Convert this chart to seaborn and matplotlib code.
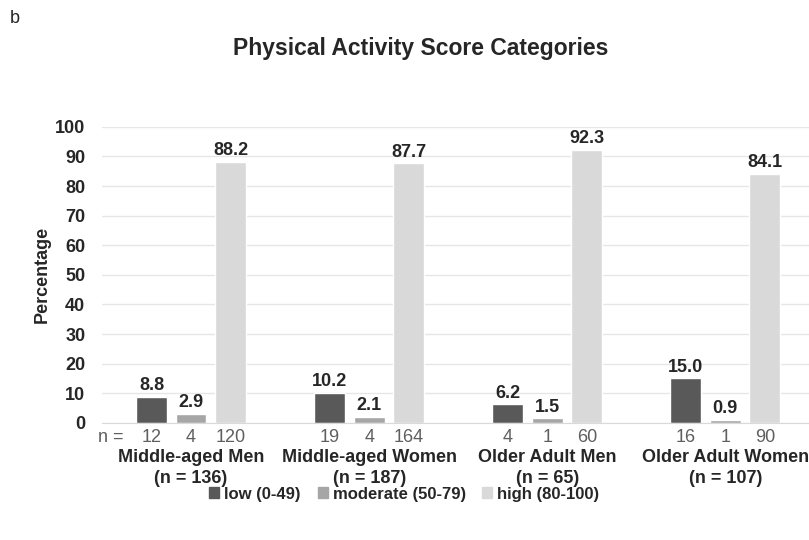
import pandas as pd
import matplotlib.pyplot as plt
import seaborn as sns

# Data
groups = ['Middle-aged Men', 'Middle-aged Women', 'Older Adult Men', 'Older Adult Women']
group_n = [136, 187, 65, 107]
levels = ['low (0-49)', 'moderate (50-79)', 'high (80-100)']
low_pct = [8.8, 10.2, 6.2, 15.0]
moderate_pct = [2.9, 2.1, 1.5, 0.9]
high_pct = [88.2, 87.7, 92.3, 84.1]
low_n = [12, 19, 4, 16]
moderate_n = [4, 4, 1, 1]
high_n = [120, 164, 60, 90]

pct = {levels[0]: low_pct, levels[1]: moderate_pct, levels[2]: high_pct}
counts = {levels[0]: low_n, levels[1]: moderate_n, levels[2]: high_n}
rows = []
for lvl in levels:
    for g, v in zip(groups, pct[lvl]):
        rows.append({'group': g, 'level': lvl, 'pct': v})
df = pd.DataFrame(rows)

sns.set_style('white')
plt.rcParams['font.family'] = ['Liberation Sans', 'DejaVu Sans']

fig = plt.figure(figsize=(8.09, 5.4), dpi=100)
ax = fig.add_axes([0.1261, 0.217, 0.8739, 0.548])

palette = ['#595959', '#a6a6a6', '#d9d9d9']
sns.barplot(data=df, x='group', y='pct', hue='level', palette=palette,
            width=0.667, gap=0.22, ax=ax, legend=False, saturation=1)

ax.set_xlim(-0.5, 3.47)
ax.set_ylim(0, 100)
ax.set_yticks(range(0, 101, 10))
ax.yaxis.grid(True, color='#e6e6e6', linewidth=1)
ax.set_axisbelow(True)
for s in ['top', 'right', 'left']:
    ax.spines[s].set_visible(False)
ax.spines['bottom'].set_color('#d9d9d9')

for lbl in ax.get_yticklabels():
    lbl.set_fontweight('bold')
    lbl.set_fontsize(13)
ax.tick_params(axis='y', length=0, pad=12)

ax.set_ylabel('Percentage', fontsize=13, fontweight='bold', labelpad=3)
ax.set_xlabel('')

# value labels + counts below bars
for lvl, cont in zip(levels, ax.containers):
    ax.bar_label(cont, fmt='%.1f', fontsize=13, fontweight='bold', padding=2)
    for bar, n in zip(cont, counts[lvl]):
        ax.text(bar.get_x() + bar.get_width() / 2, -0.02, str(n),
                transform=ax.get_xaxis_transform(), ha='center', va='top',
                fontsize=13, color='#5f5f5f')
ax.text(0.03, -0.02, 'n =', transform=ax.transAxes, ha='right', va='top',
        fontsize=13, color='#5f5f5f')

ax.set_xticks(range(len(groups)))
ax.set_xticklabels([f'{g}\n(n = {n})' for g, n in zip(groups, group_n)],
                   fontsize=13, fontweight='bold', linespacing=1.3)
ax.tick_params(axis='x', length=0, pad=19)

fig.text(0.52, 0.91, 'Physical Activity Score Categories', ha='center',
         va='center', fontsize=16.5, fontweight='bold')
fig.text(0.012, 0.965, 'b', ha='left', va='center', fontsize=13)

handles = [plt.Rectangle((0, 0), 1, 1, color=c) for c in palette]
fig.legend(handles, levels, loc='center', bbox_to_anchor=(0.5, 0.085), ncol=3,
           frameon=False, prop={'size': 12, 'weight': 'bold'},
           handlelength=0.6, handleheight=0.6, handletextpad=0.3, columnspacing=1.0)

fig.savefig('out.png', dpi=100)
